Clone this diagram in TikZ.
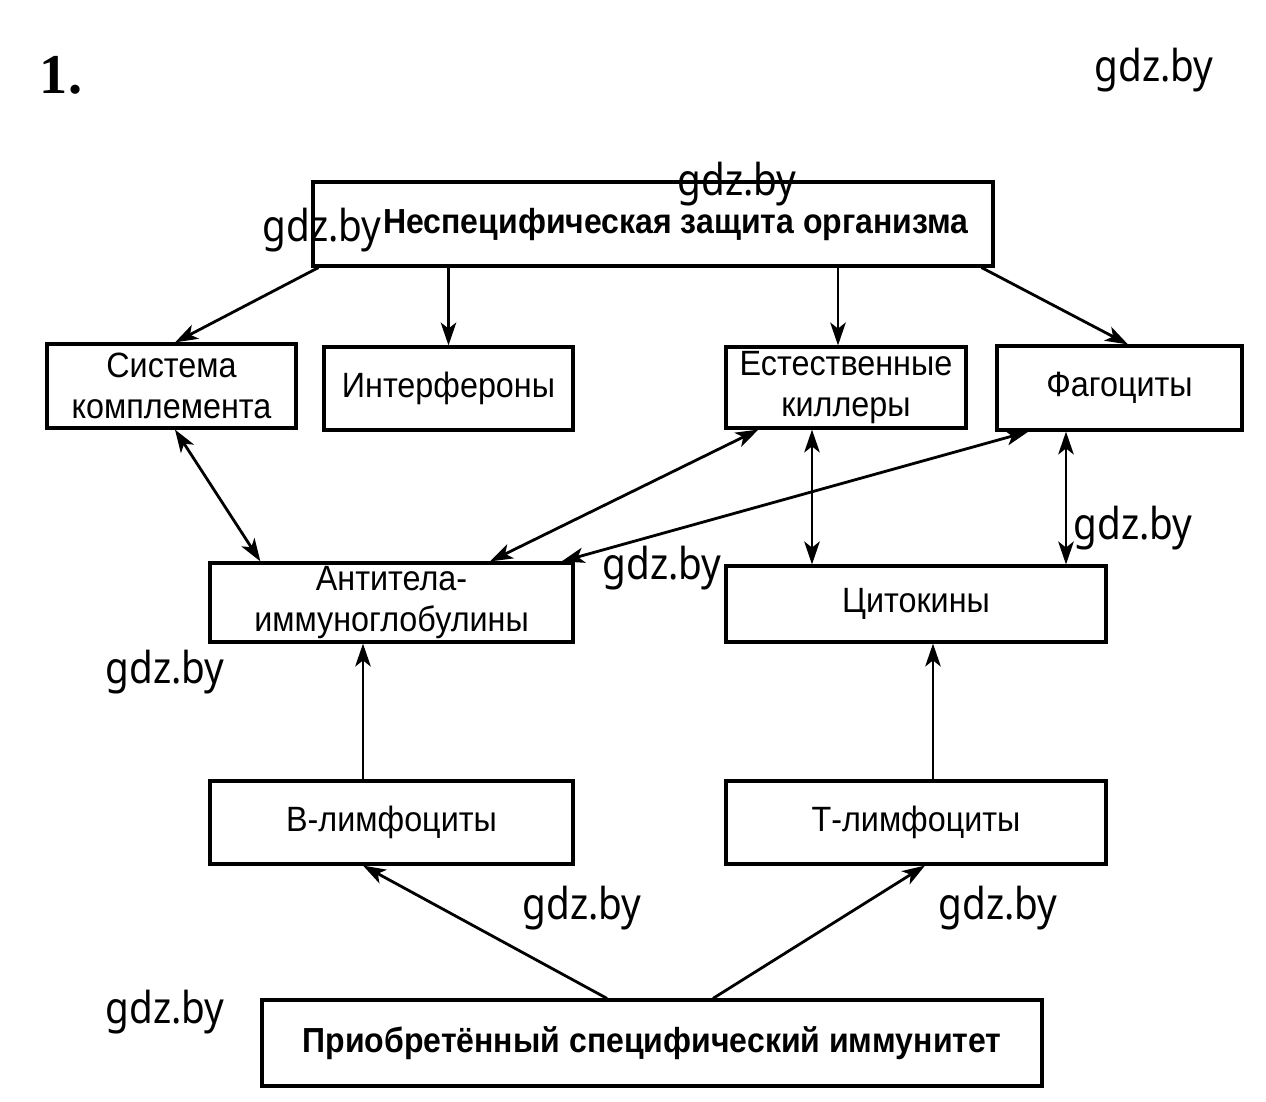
\documentclass[tikz,border=0pt]{standalone}
\usepackage{fontspec}
\setmainfont[FakeStretch=0.92]{Liberation Sans}
\newfontfamily\wmfont[FakeStretch=0.88]{Noto Sans}
\newfontfamily\numfont{Liberation Serif}
\usetikzlibrary{arrows.meta,calc}
\tikzset{
	box/.style={draw,line width=0.9pt,inner sep=0pt,align=center,font=\fontsize{10}{11.5}\selectfont},
	bbox/.style={box,font=\bfseries\fontsize{9.9}{11}\selectfont},
	arr/.style={line width=0.8pt,-{Stealth[length=6.5pt,width=4.4pt,inset=1.7pt]}},
	darr/.style={arr,{Stealth[length=6.5pt,width=4.4pt,inset=1.7pt]}-{Stealth[length=6.5pt,width=4.4pt,inset=1.7pt]}},
	wm/.style={font=\wmfont\fontsize{12.5}{14}\selectfont,inner sep=0pt}
}

\begin{document}
\begin{tikzpicture}[]
\useasboundingbox (0,0) rectangle (12.66,-11.02);
\node[bbox,minimum width=6.8cm,minimum height=0.84cm] (top) at (6.53,-2.24) {\hspace*{0.46cm}\raisebox{-0.6pt}{Неспецифическая защита организма}};
\node[box,minimum width=2.49cm,minimum height=0.84cm] (sys) at (1.715,-3.86) {Система\\комплемента};
\node[box,minimum width=2.49cm,minimum height=0.83cm] (ifn) at (4.485,-3.885) {Интерфероны};
\node[box,minimum width=2.40cm,minimum height=0.81cm] (nk) at (8.46,-3.875) {Естественные\\киллеры};
\node[box,minimum width=2.45cm,minimum height=0.84cm] (fag) at (11.195,-3.88) {Фагоциты};
\node[box,minimum width=3.63cm,minimum height=0.79cm] (ab) at (3.915,-6.025) {Антитела-\\иммуноглобулины};
\node[box,minimum width=3.80cm,minimum height=0.76cm] (cyt) at (9.16,-6.04) {Цитокины};
\node[box,minimum width=3.63cm,minimum height=0.83cm] (bl) at (3.915,-8.225) {В-лимфоциты};
\node[box,minimum width=3.80cm,minimum height=0.83cm] (tl) at (9.16,-8.225) {Т-лимфоциты};
\node[bbox,minimum width=7.8cm,minimum height=0.86cm] (acq) at (6.52,-10.43) {Приобретённый специфический иммунитет};
\node[font=\numfont\bfseries\fontsize{16}{18}\selectfont,inner sep=0pt] (num) at (0.61,-0.75) {1.};
\coordinate (nkc) at ([xshift=-0.34cm]nk.south);
\coordinate (fagc) at ([xshift=-0.535cm]fag.south);
\draw[arr] ([xshift=0.07cm]top.south west) -- ([xshift=0.035cm]sys.north);
\draw[arr] (ifn.north |- top.south) -- (ifn.north);
\draw[arr] ([xshift=-0.08cm]nk.north |- top.south) -- ([xshift=-0.08cm]nk.north);
\draw[arr] ([xshift=-0.13cm]top.south east) -- ([xshift=0.085cm]fag.north);
\draw[darr] ([xshift=0.035cm]sys.south) -- ([xshift=0.52cm]ab.north west);
\draw[darr] ([xshift=0.34cm]nk.south west) -- ([xshift=0.985cm]ab.north);
\draw[darr] ([xshift=0.33cm]fag.south west) -- ([xshift=-0.13cm]ab.north east);
\draw[darr] (nkc) -- (nkc |- cyt.north);
\draw[darr] (fagc) -- (fagc |- cyt.north);
\draw[arr] ([xshift=-0.285cm]bl.north) -- ([xshift=-0.285cm]ab.south);
\draw[arr] ([xshift=0.17cm]tl.north) -- ([xshift=0.17cm]cyt.south);
\draw[arr] ([xshift=-0.45cm]acq.north) -- ([xshift=-0.285cm]bl.south);
\draw[arr] ([xshift=0.61cm]acq.north) -- ([xshift=0.09cm]tl.south);
\foreach \x/\y [count=\i] in {11.54/-0.70,7.37/-1.84,3.22/-2.30,11.33/-5.28,6.62/-5.68,1.65/-6.72,5.82/-9.08,9.98/-9.08,1.65/-10.12}
	\node[wm] (wm\i) at (\x,\y) {gdz.by};
\end{tikzpicture}
\end{document}
